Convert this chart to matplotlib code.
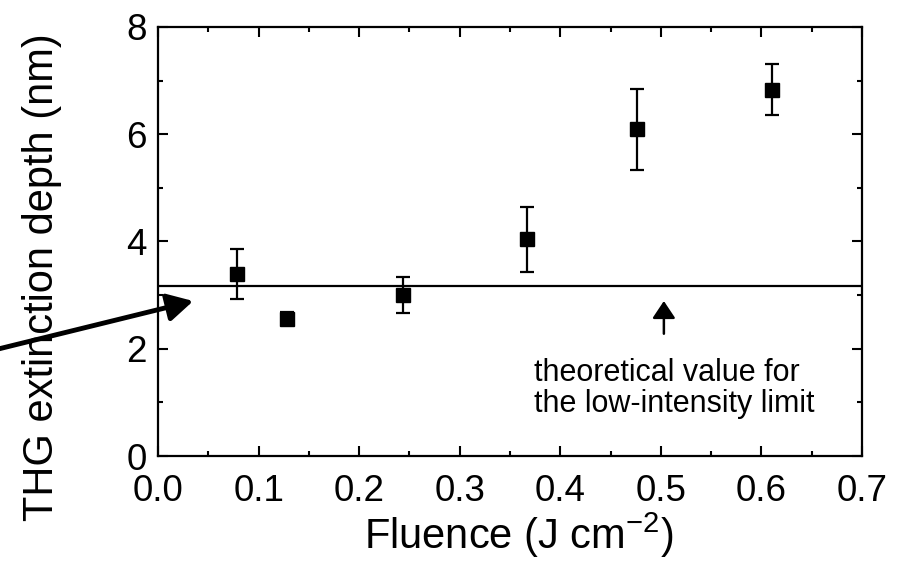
import matplotlib
matplotlib.use("Agg")
import matplotlib.pyplot as plt
from matplotlib.ticker import MultipleLocator, FormatStrFormatter
from matplotlib.patches import ArrowStyle

plt.rcParams['font.family'] = ['Liberation Sans', 'DejaVu Sans']
plt.rcParams['mathtext.fontset'] = 'custom'
plt.rcParams['mathtext.rm'] = 'Liberation Sans'

# datos
fluence = [0.079, 0.128, 0.244, 0.3665, 0.4765, 0.611]
depth = [3.39, 2.56, 3.00, 4.04, 6.09, 6.83]
depth_err = [0.47, 0.12, 0.34, 0.60, 0.76, 0.48]
theory_depth = 3.17

fig = plt.figure(figsize=(9.01, 5.62), dpi=100)
ax = fig.add_axes([0.1754, 0.1886, 0.7813, 0.7634])

ax.errorbar(fluence, depth, yerr=depth_err, fmt='s', color='black',
            markersize=9.5, elinewidth=1.6, capsize=5, capthick=1.6)
ax.axhline(theory_depth, color='black', lw=1.6)

# flecha desde fuera del grafico
ax.annotate('', xy=(0.035, 2.89), xytext=(-0.16, 1.99),
            arrowprops=dict(arrowstyle=ArrowStyle('-|>', head_length=0.7, head_width=0.38),
                            lw=3.5, color='black', mutation_scale=22,
                            shrinkA=0, shrinkB=0),
            annotation_clip=False)

# flecha del valor teorico
ax.annotate('', xy=(0.503, 2.89), xytext=(0.503, 2.28),
            arrowprops=dict(arrowstyle=ArrowStyle('-|>', head_length=0.75, head_width=0.5),
                            lw=1.8, color='black', mutation_scale=14,
                            shrinkA=0, shrinkB=0))
ax.text(0.3735, 1.83, 'theoretical value for\nthe low-intensity limit',
        fontsize=22, va='top', ha='left', linespacing=1.05)

ax.set_xlim(0, 0.7)
ax.set_ylim(0, 8)
ax.xaxis.set_major_locator(MultipleLocator(0.1))
ax.xaxis.set_minor_locator(MultipleLocator(0.05))
ax.yaxis.set_major_locator(MultipleLocator(2))
ax.yaxis.set_minor_locator(MultipleLocator(1))
ax.xaxis.set_major_formatter(FormatStrFormatter('%.1f'))

ax.tick_params(which='both', direction='in', top=True, right=True, width=1.5, labelsize=26.5)
ax.tick_params(which='major', length=7)
ax.tick_params(which='minor', length=3.5)
ax.tick_params(axis='x', pad=13)
ax.tick_params(axis='y', pad=8)
for s in ax.spines.values():
    s.set_linewidth(1.6)

ax.set_xlabel('Fluence (J cm$^{\\mathregular{-2}}$)', fontsize=30)
ax.set_ylabel('THG extinction depth (nm)', fontsize=30)
ax.xaxis.set_label_coords(0.513, -0.128)
ax.yaxis.set_label_coords(-0.136, 0.417)

fig.savefig('out.png', dpi=100)
